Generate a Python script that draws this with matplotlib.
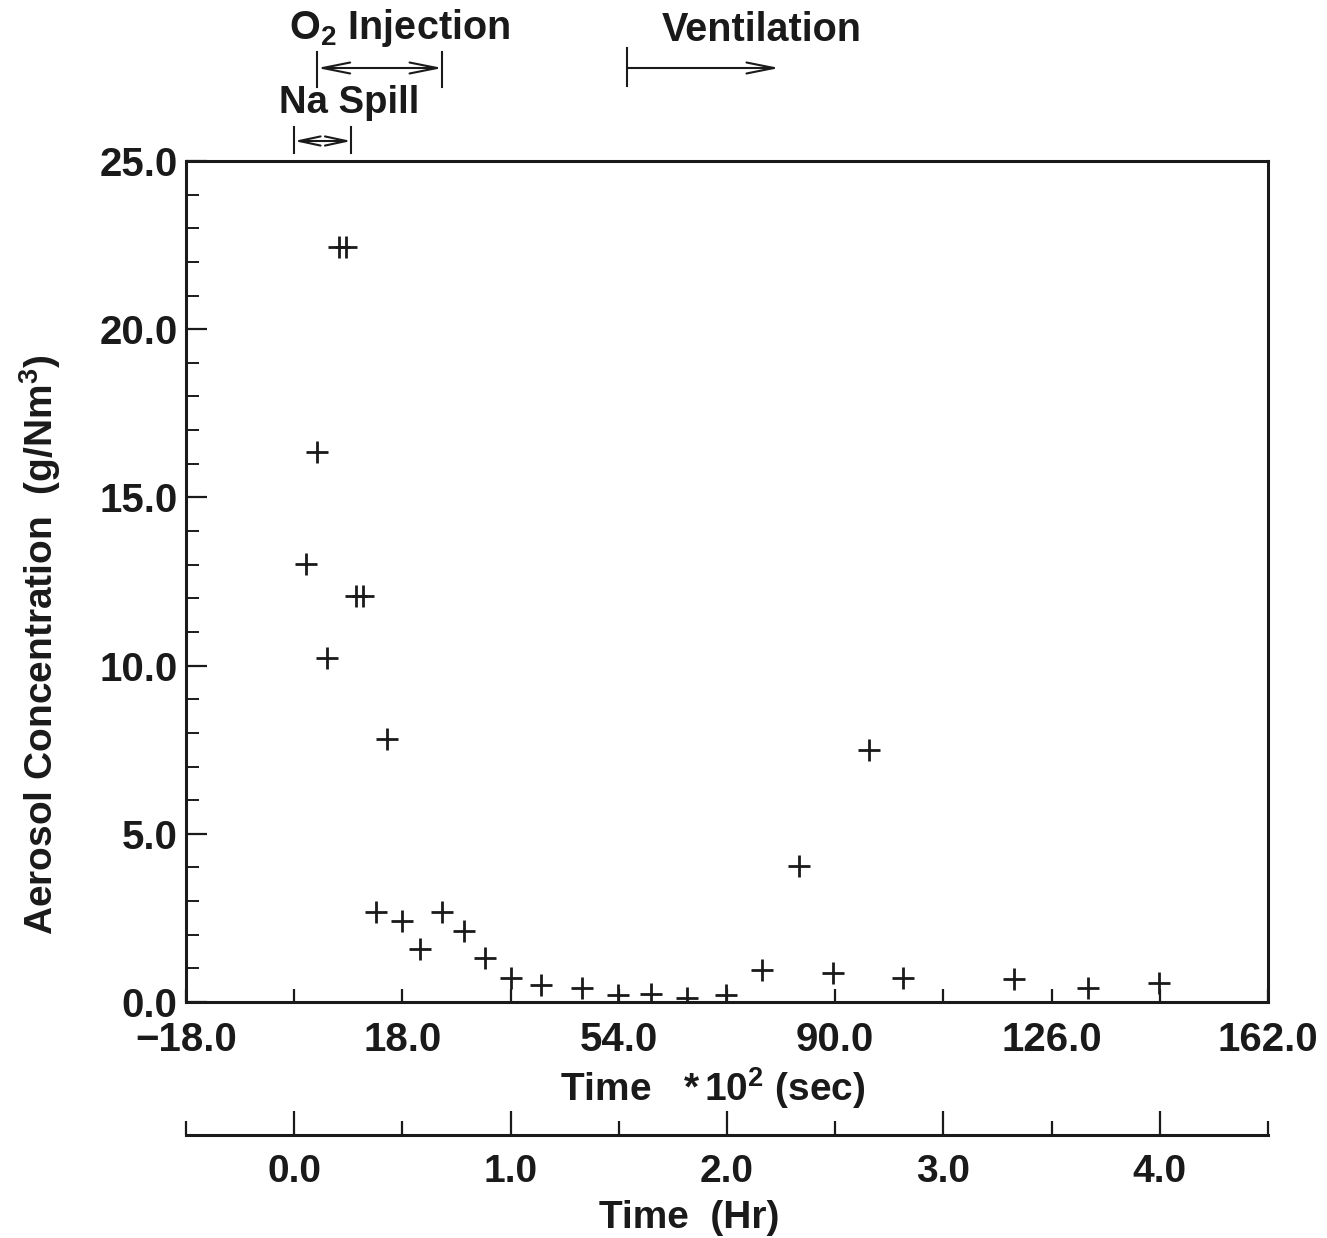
import matplotlib
matplotlib.use("Agg")
import matplotlib.pyplot as plt
import matplotlib.transforms as mtrans
from matplotlib.ticker import MultipleLocator, FixedLocator, FuncFormatter

# ---------------- data ----------------
time_e2_sec = [1.9, 3.85, 5.5, 7.4, 8.7, 10.3, 11.5, 13.55, 15.45, 18.0,
               21.0, 24.65, 28.3, 31.8, 36.0, 41.1, 47.9, 53.9, 59.3, 65.4,
               71.8, 77.8, 84.0, 89.7, 95.6, 101.2, 119.7, 132.1, 143.9]
concentration = [13.03, 16.35, 10.22, 22.45, 22.45, 12.08, 12.08, 2.67, 7.82, 2.41,
                 1.58, 2.68, 2.11, 1.30, 0.71, 0.51, 0.43, 0.20, 0.24, 0.12,
                 0.21, 0.95, 4.04, 0.85, 7.50, 0.70, 0.68, 0.42, 0.57]

x_major_ticks = [-18.0, 18.0, 54.0, 90.0, 126.0, 162.0]
hr_major_ticks = [0.0, 1.0, 2.0, 3.0, 4.0]
hr_minor_ticks = [-0.5, 0.5, 1.5, 2.5, 3.5, 4.5]

na_spill = [0.0, 9.5]
o2_injection = [3.85, 24.65]
ventilation = [55.4, 80.7]

event_labels = [r"O$_{2}$ Injection", "Na Spill", "Ventilation"]
event_label_x = [17.5, 9.2, 77.8]

x_label = r"Time   $*\,10^{2}$ (sec)"
hr_label = "Time  (Hr)"
y_label = r"Aerosol Concentration  (g/Nm$^{3}$)"

# ---------------- style ----------------
plt.rcParams["font.family"] = ["Liberation Sans", "DejaVu Sans"]
plt.rcParams["font.weight"] = "bold"
plt.rcParams["mathtext.fontset"] = "custom"
plt.rcParams["mathtext.rm"] = "Liberation Sans:bold"
plt.rcParams["mathtext.it"] = "Liberation Sans:bold"
plt.rcParams["mathtext.bf"] = "Liberation Sans:bold"
INK = "#1a1a1a"

W, H = 1327, 1238
fig = plt.figure(figsize=(W / 100, H / 100), dpi=100)
L, R, T, B = 186, 1268, 161, 1002
ax = fig.add_axes([L / W, 1 - B / H, (R - L) / W, (B - T) / H])

ax.plot(time_e2_sec, concentration, ls="none", marker="+", ms=16, mew=2.0, color=INK)

ax.set_xlim(-18, 162)
ax.set_ylim(0, 25)

for s in ax.spines.values():
    s.set_linewidth(2.2)
    s.set_color(INK)

fmt = FuncFormatter(lambda v, p: f"{v:.1f}".replace("-", "\u2212"))
ax.xaxis.set_major_locator(FixedLocator(x_major_ticks))
ax.xaxis.set_minor_locator(MultipleLocator(18))
ax.xaxis.set_major_formatter(fmt)
ax.yaxis.set_major_locator(MultipleLocator(5))
ax.yaxis.set_minor_locator(MultipleLocator(1))
ax.yaxis.set_major_formatter(fmt)

ax.tick_params(axis="x", which="both", direction="in", length=9.5, width=1.6,
               color=INK, labelsize=29, pad=14, labelcolor=INK)
ax.tick_params(axis="y", which="major", direction="in", length=15, width=1.6,
               color=INK, labelsize=29, pad=6, labelcolor=INK)
ax.tick_params(axis="y", which="minor", direction="in", length=9.5, width=1.4, color=INK)
for lab in ax.get_xticklabels() + ax.get_yticklabels():
    lab.set_fontweight("bold")

# secondary hour axis
pos = (B - 1135) / (B - T)
sec = ax.secondary_xaxis(pos, functions=(lambda x: x / 36.0, lambda h: h * 36.0))
sec.xaxis.set_major_locator(FixedLocator(hr_major_ticks))
sec.xaxis.set_minor_locator(FixedLocator(hr_minor_ticks))
sec.xaxis.set_major_formatter(FuncFormatter(lambda v, p: f"{v:.1f}"))
sec.tick_params(axis="x", which="major", direction="in", length=17, width=1.6,
                color=INK, labelsize=28, pad=14, labelcolor=INK)
sec.tick_params(axis="x", which="minor", direction="in", length=10, width=1.6, color=INK)
sec.spines["bottom"].set_linewidth(2.2)
sec.spines["bottom"].set_color(INK)
for lab in sec.get_xticklabels():
    lab.set_fontweight("bold")

# axis labels
fig.text(713 / W, 1 - 1088 / H, x_label, ha="center", va="center", fontsize=28,
         fontweight="bold", color=INK)
fig.text(689 / W, 1 - 1218 / H, hr_label, ha="center", va="center", fontsize=28,
         fontweight="bold", color=INK)
fig.text(40 / W, 1 - 645 / H, y_label, ha="center", va="center", rotation=90,
         fontsize=28, fontweight="bold", color=INK)

# event annotations above the plot
trans = mtrans.blended_transform_factory(ax.transData, fig.transFigure)


def fy(px):
    return 1 - px / H


def bracket(x0, x1, y_arrow, y_top, y_bot, style, bars):
    for xb in bars:
        ax.plot([xb, xb], [fy(y_top), fy(y_bot)], transform=trans, color=INK,
                lw=1.5, clip_on=False)
    ax.annotate("", xy=(x1, fy(y_arrow)), xytext=(x0, fy(y_arrow)),
                xycoords=trans, textcoords=trans,
                arrowprops=dict(arrowstyle=style, color=INK, lw=1.5,
                                mutation_scale=22, shrinkA=0, shrinkB=0))


bracket(o2_injection[0], o2_injection[1], 68, 52, 87, "<->,head_width=0.18,head_length=0.9",
        o2_injection)
bracket(na_spill[0], na_spill[1], 141, 127, 153, "<->,head_width=0.15,head_length=0.7",
        na_spill)
bracket(ventilation[0], ventilation[1], 68, 48, 86, "->,head_width=0.18,head_length=0.9",
        [ventilation[0]])

for lbl, lx, ly, fs in zip(event_labels, event_label_x, [28, 103, 30], [28.5, 27.5, 28.5]):
    ax.text(lx, fy(ly), lbl, transform=trans, ha="center", va="center",
            fontsize=fs, fontweight="bold", color=INK)

fig.savefig("out.png", dpi=100, facecolor="white")
